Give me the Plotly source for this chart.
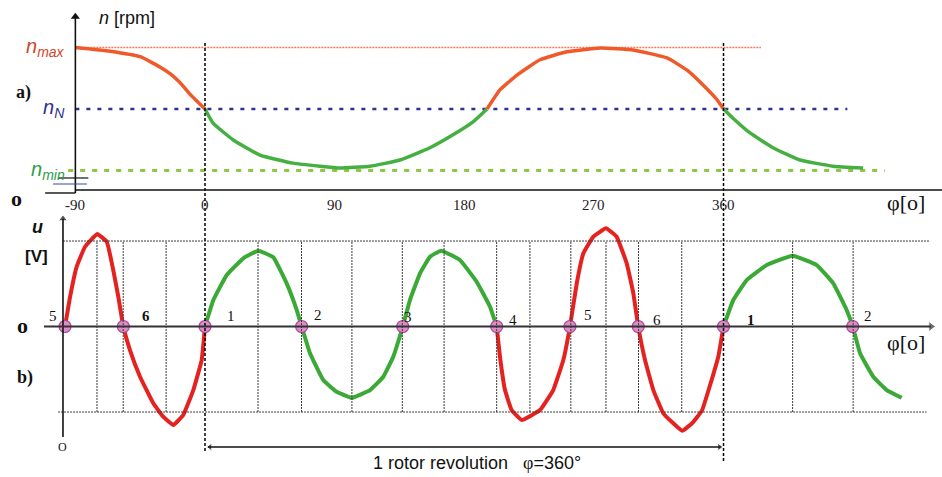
import plotly.graph_objects as go

# ---------------- DATA ----------------
# a) rotor speed n versus rotor angle phi (degrees); levels: n_min=1, n_N=2, n_max=3
top_red1_phi = [-90, -66, -45, -31, -24, -17, -10, 0]
top_red1_n = [3.0, 2.94, 2.85, 2.68, 2.57, 2.42, 2.23, 2.0]
top_green1_phi = [0, 5.6, 19.4, 38.2, 61.1, 79.8, 93.7, 114.6, 135.4, 156.2, 172.2, 186.1, 195.8]
top_green1_n = [2.0, 1.77, 1.50, 1.25, 1.12, 1.07, 1.04, 1.07, 1.17, 1.37, 1.58, 1.79, 2.0]
top_red2_phi = [195.8, 204.8, 216.6, 232.6, 251.3, 274.2, 297.2, 320.8, 334.7, 345.8, 355.5, 360]
top_red2_n = [2.0, 2.31, 2.55, 2.80, 2.93, 2.99, 2.96, 2.83, 2.63, 2.39, 2.15, 2.0]
top_green2_phi = [360, 366.6, 378.4, 394.4, 413.1, 436.0, 456.9]
top_green2_n = [2.0, 1.85, 1.61, 1.37, 1.17, 1.07, 1.04]

level_names = ["n_max", "n_N", "n_min"]
level_values = [3, 2, 1]
level_start = [-90, -90, -95]
level_end = [386, 446, 472]

top_tick_vals = [-90, 0, 90, 180, 270, 360]
top_tick_text = ["-90", "0", "90", "180", "270", "360"]

# b) induced voltage u (grid lines at +/-1)
bot_red1_phi = [-97.2, -93.7, -89.1, -83.3, -74.8, -68.2, -63.7, -60.2, -56.7, -52.1, -45.1, -35.9,
                -29.0, -22.0, -15.1, -8.1, -2.3, 0]
bot_red1_u = [0, 0.345, 0.70, 0.933, 1.082, 0.992, 0.661, 0.349, 0, -0.275, -0.587, -0.898,
              -1.055, -1.152, -1.035, -0.743, -0.392, 0]
bot_green1_phi = [0, 5.8, 15.1, 26.6, 37.0, 47.4, 56.7, 63.7, 67.1, 72.9, 82.1, 91.4, 101.9, 114.6,
                  123.8, 130.7, 137.3, 142.3, 149.3, 156.2, 163.9, 177.0, 188.6, 197.9, 202.5]
bot_green1_u = [0, 0.31, 0.602, 0.798, 0.887, 0.81, 0.505, 0.193, 0, -0.313, -0.626, -0.763, -0.833,
                -0.743, -0.587, -0.353, 0, 0.31, 0.622, 0.816, 0.887, 0.778, 0.524, 0.232, 0]
bot_red2_phi = [202.5, 204.8, 208.3, 212.9, 219.9, 232.6, 241.8, 248.8, 253.4, 258.1, 262.7, 269.6,
                278.4, 285.8, 292.8, 297.4, 300.8, 305.5, 311.3, 318.2, 331.4, 338.8, 345.1, 350.6,
                356.4, 360]
bot_red2_u = [0, -0.353, -0.743, -0.977, -1.094, -0.977, -0.743, -0.392, 0, 0.505, 0.856, 1.050,
              1.149, 1.050, 0.739, 0.388, 0, -0.392, -0.743, -1.015, -1.219, -1.12, -0.98, -0.69,
              -0.35, 0]
bot_green2_phi = [360, 366.8, 376.1, 390.0, 408.0, 424.7, 436.2, 445.5, 449.7, 454.8, 464.0, 473.3, 483.7]
bot_green2_u = [0, 0.31, 0.544, 0.719, 0.828, 0.719, 0.505, 0.193, 0, -0.313, -0.587, -0.743, -0.833]

cross_phi = [-97.2, -56.7, 0, 67.1, 137.3, 202.5, 253.4, 300.8, 360, 449.7]
cross_labels = ["5", "6", "1", "2", "3", "4", "5", "6", "1", "2"]
grid_phi = [-75, -56.8, -27, 36.8, 67, 102, 137, 166, 202.5, 225.6, 254, 278.4, 301, 331, 408, 450]

# ---------------- STYLE ----------------
SERIF = "Liberation Serif, Times New Roman, serif"
SANS = "Liberation Sans, Arial, sans-serif"
ORANGE = "#f0592a"
TGREEN = "#45b041"
RED = "#e42320"
GREEN = "#3aa935"
label_colors = ["#d2452c", "#2e3192", "#2e9e4a"]
level_colors = ["#f07a55", "#2e3192", "#8dc63f"]
level_widths = [1.3, 2.5, 2.8]
level_dash = ["2px,1px", "4px,7px", "5px,7px"]
cross_dx = [-12, 23, 26, 16, 5, 16, 18, 19, 27, 15]
cross_dy = [11, 11, 11, 12, 10, 7, 12, 7, 7, 11]
cross_bold = [False, True, False, False, False, False, False, False, True, False]
GRID = "#3a3a3a"

fig = go.Figure()

# reference levels
for name, v, s, e, c, w, d in zip(level_names, level_values, level_start, level_end,
                                  level_colors, level_widths, level_dash):
    fig.add_trace(go.Scatter(x=[s, e], y=[v, v], mode="lines", yaxis="y2",
                             line=dict(color=c, width=w, dash=d), hoverinfo="skip", name=name))

# top curve
for xs, ys, c in [(top_red1_phi, top_red1_n, ORANGE), (top_green1_phi, top_green1_n, TGREEN),
                  (top_red2_phi, top_red2_n, ORANGE), (top_green2_phi, top_green2_n, TGREEN)]:
    fig.add_trace(go.Scatter(x=xs, y=ys, mode="lines", yaxis="y2",
                             line=dict(color=c, width=3.5, shape="spline", smoothing=0.4)))

shapes = []
# bottom grid
for g in grid_phi:
    shapes.append(dict(type="line", xref="x", yref="y", x0=g, x1=g, y0=-1.0, y1=1.0,
                       line=dict(color=GRID, width=1, dash="2px,1px")))
shapes.append(dict(type="line", xref="x", yref="y", x0=-98.6, x1=503, y0=1, y1=1,
                   line=dict(color=GRID, width=1, dash="2px,1px")))
shapes.append(dict(type="line", xref="x", yref="y", x0=-102, x1=501, y0=-1, y1=-1,
                   line=dict(color=GRID, width=1, dash="2px,1px")))
# dashed revolution markers
shapes.append(dict(type="line", xref="x", yref="paper", x0=0, x1=0, y0=0.91, y1=0.052,
                   line=dict(color="#000", width=1.5, dash="3px,2px")))
shapes.append(dict(type="line", xref="x", yref="paper", x0=360, x1=360, y0=0.91, y1=0.032,
                   line=dict(color="#000", width=1.5, dash="3px,2px")))
# top axes and break marks
shapes.append(dict(type="line", xref="x", yref="y2", x0=-90, x1=520, y0=0.683, y1=0.683,
                   line=dict(color="#111", width=1.6)))
shapes.append(dict(type="line", xref="x", yref="y2", x0=-90, x1=-90, y0=0.634, y1=3.50,
                   line=dict(color="#111", width=1.6)))
shapes.append(dict(type="line", xref="x", yref="y2", x0=-111, x1=-90, y0=0.634, y1=0.634,
                   line=dict(color="#111", width=1.4)))
shapes.append(dict(type="line", xref="x", yref="y2", x0=-102, x1=-81, y0=0.878, y1=0.878,
                   line=dict(color="#111", width=1.2)))
shapes.append(dict(type="line", xref="x", yref="y2", x0=-105.5, x1=-82, y0=0.78, y1=0.78,
                   line=dict(color="#3b4aa0", width=1.2)))
# bottom axes and revolution span line
shapes.append(dict(type="line", xref="x", yref="y", x0=-98.6, x1=-98.6, y0=-1.292, y1=1.26,
                   line=dict(color="#111", width=1.6)))
shapes.append(dict(type="line", xref="x", yref="y", x0=-111.8, x1=504, y0=0, y1=0,
                   line=dict(color="#333", width=2)))
shapes.append(dict(type="line", xref="x", yref="y", x0=2, x1=358, y0=-1.409, y1=-1.409,
                   line=dict(color="#111", width=1.3)))

# bottom waveform
for xs, ys, c in [(bot_red1_phi, bot_red1_u, RED), (bot_green1_phi, bot_green1_u, GREEN),
                  (bot_red2_phi, bot_red2_u, RED), (bot_green2_phi, bot_green2_u, GREEN)]:
    fig.add_trace(go.Scatter(x=xs, y=ys, mode="lines", yaxis="y",
                             line=dict(color=c, width=4, shape="spline", smoothing=0.3)))

# zero crossings
fig.add_trace(go.Scatter(x=cross_phi, y=[0] * len(cross_phi), mode="markers", yaxis="y",
                         marker=dict(size=12, color="#dc8fc6", line=dict(color="#b0479b", width=1.2))))

# arrow heads
fig.add_trace(go.Scatter(x=[-90], y=[3.50], mode="markers", yaxis="y2", hoverinfo="skip",
                         marker=dict(symbol="triangle-up", size=8, color="#111")))
fig.add_trace(go.Scatter(x=[-98.6, 504.1, 3.5, 357.2], y=[1.26, 0, -1.409, -1.409], mode="markers",
                         yaxis="y", hoverinfo="skip",
                         marker=dict(symbol=["triangle-up", "triangle-right", "triangle-left", "triangle-right"],
                                     size=[8, 9, 7, 7], color=["#111", "#333", "#111", "#111"])))

ann = []
# top tick labels
for v, t in zip(top_tick_vals, top_tick_text):
    ann.append(dict(x=v, y=0.683, xref="x", yref="y2", text=t, showarrow=False, yshift=-15,
                    font=dict(family=SERIF, size=15, color="#222")))

# level labels
subs = ["max", "N", "min"]
for v, sb, c in zip(level_values, subs, label_colors):
    ann.append(dict(x=-96, y=v, xref="x", yref="y2", xanchor="right", showarrow=False,
                    text="<i>n</i><sub><i>%s</i></sub>" % sb,
                    font=dict(family=SANS, size=20, color=c)))

# crossing labels
for p, t, dx, dy, b in zip(cross_phi, cross_labels, cross_dx, cross_dy, cross_bold):
    ann.append(dict(x=p, y=0, xref="x", yref="y", text=("<b>%s</b>" % t) if b else t,
                    showarrow=False, xshift=dx, yshift=dy,
                    font=dict(family=SERIF, size=15, color="#111")))

def ptxt(px, py, text, font, xanchor="center"):
    ann.append(dict(x=px / 942, y=1 - py / 477, xref="paper", yref="paper", text=text,
                    showarrow=False, xanchor=xanchor, yanchor="middle", font=font))

ptxt(97, 18, "<i>n</i> [rpm]", dict(family=SANS, size=18, color="#111"), "left")
ptxt(23, 92, "<b>a)</b>", dict(family=SERIF, size=18, color="#111"))
ptxt(16, 198, "<b>o</b>", dict(family=SERIF, size=22, color="#111"))
ptxt(906, 202, "φ[o]", dict(family=SERIF, size=22, color="#111"))
ptxt(37, 227, "<b><i>u</i></b>", dict(family=SANS, size=18, color="#111"))
ptxt(36, 256, "<b>[V]</b>", dict(family=SANS, size=17, color="#111"))
ptxt(22, 325, "<b>o</b>", dict(family=SERIF, size=22, color="#111"))
ptxt(906, 342, "φ[o]", dict(family=SERIF, size=22, color="#111"))
ptxt(25, 377, "<b>b)</b>", dict(family=SERIF, size=18, color="#111"))
ptxt(62, 447, "O", dict(family=SERIF, size=12, color="#111"))
ann.append(dict(x=189, y=-1.602, xref="x", yref="y", showarrow=False,
                text="1 rotor revolution\u00a0\u00a0\u00a0<span style='font-family:Liberation Serif'>φ</span>=360°",
                font=dict(family=SANS, size=18, color="#111")))

fig.update_layout(
    width=942, height=477, autosize=False,
    margin=dict(l=0, r=0, t=0, b=0, pad=0),
    paper_bgcolor="white", plot_bgcolor="white",
    showlegend=False,
    xaxis=dict(range=[-142.33, 511.70], visible=False, fixedrange=True),
    yaxis=dict(range=[-1.760, 3.819], visible=False, fixedrange=True, domain=[0, 1]),
    yaxis2=dict(range=[-3.984, 3.772], visible=False, fixedrange=True, overlaying="y"),
    shapes=shapes, annotations=ann,
)
fig.write_html("out.html", config={"displayModeBar": False},
               post_script="document.body.style.margin='0';document.body.style.overflow='hidden';")
